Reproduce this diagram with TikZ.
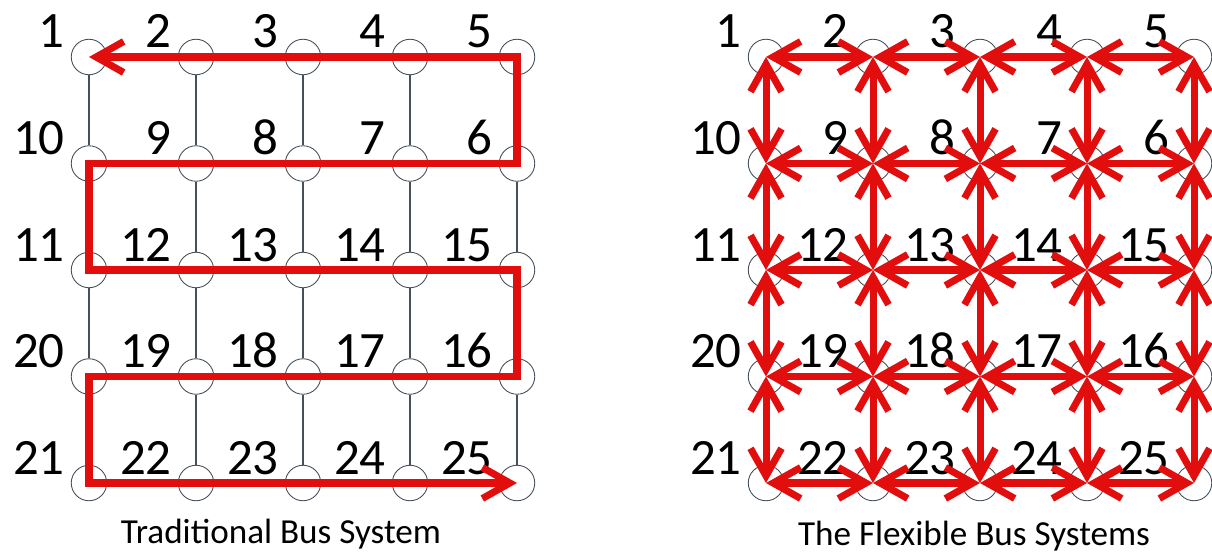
\documentclass[tikz,border=0pt]{standalone}
\usepackage{fontspec}
\setmainfont{Carlito}
\usetikzlibrary{arrows.meta}
\definecolor{busred}{RGB}{226,14,14}
\definecolor{stopgray}{RGB}{70,80,90}

\begin{document}
\begin{tikzpicture}[
    x=0.02cm, y=-0.02cm,
    stop/.style={circle,draw=stopgray,line width=0.5pt,minimum size=0.71cm,inner sep=0pt},
    num/.style={anchor=base east,inner sep=0pt,font=\fontsize{29}{29}\selectfont},
    caption/.style={anchor=base,inner sep=0pt,font=\fontsize{20}{20}\selectfont},
    link/.style={draw=stopgray,line width=0.6pt},
    route/.style={busred,line width=4pt,{Straight Barb[length=0.55cm,width=0.62cm]}-{Straight Barb[length=0.55cm,width=0.62cm]}}
]
\useasboundingbox (0,0) rectangle (1212,554);

% stops and their numbers, counted in a snake
\foreach \r in {0,...,4} {
  \foreach \c in {0,...,4} {
    \pgfmathtruncatemacro\n{ifthenelse(mod(\r,2)==0,5*\r+\c+1,5*\r+5-\c)}
    \node[stop] (trad-\r-\c) at (89+107*\c,57+106.5*\r) {};
    \node[num] (trad-\r-\c-num) at (65+107*\c,48+106.5*\r) {\n};
    \node[stop] (flex-\r-\c) at (766+107*\c,57+106.5*\r) {};
    \node[num] (flex-\r-\c-num) at (742+107*\c,48+106.5*\r) {\n};
  }
}

\foreach \r [evaluate=\r as \rnext using int(\r+1)] in {0,...,3} {
  \foreach \c in {0,...,4}
    \draw[link] (trad-\r-\c) -- (trad-\rnext-\c);
}

\draw[route] (trad-0-0.center) -- (trad-0-4.center) -- (trad-1-4.center) -- (trad-1-0.center)
  -- (trad-2-0.center) -- (trad-2-4.center) -- (trad-3-4.center) -- (trad-3-0.center)
  -- (trad-4-0.center) -- (trad-4-4.center);

\foreach \r in {0,...,4} {
  \foreach \c [evaluate=\c as \cnext using int(\c+1)] in {0,...,3} {
    \draw[route] (flex-\r-\c.center) -- (flex-\r-\cnext.center);
    \draw[route] (flex-\c-\r.center) -- (flex-\cnext-\r.center);
  }
}

\node[caption] (trad-caption) at (281,543) {Traditional Bus System};
\node[caption] (flex-caption) at (974,545) {The Flexible Bus Systems};
\end{tikzpicture}
\end{document}
